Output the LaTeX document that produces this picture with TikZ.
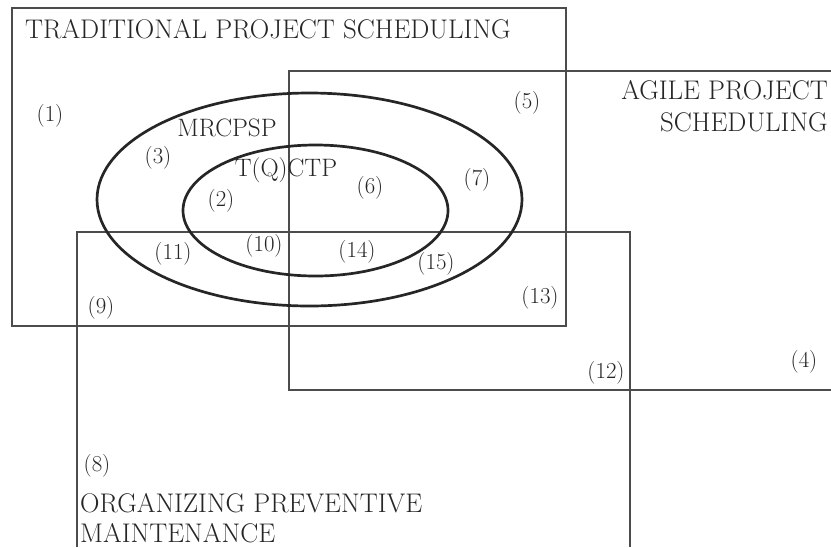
\documentclass[tikz,border=0pt]{standalone}
\begin{document}
\begin{tikzpicture}[x=0.03cm,y=-0.03cm,
    setbox/.style={draw=black!70,line width=1.1pt},
    setring/.style={draw=black!85,line width=2.3pt},
    region/.style={text=black!85,font=\fontsize{19.5}{22}\selectfont,inner sep=0pt},
    setname/.style={text=black!85,font=\fontsize{23}{27}\selectfont,inner sep=0pt}]
    \useasboundingbox (0,0) rectangle (831,547);
    \draw[setbox] (12,8) rectangle (566,326);
    \draw[setbox] (831,71) -- (289,71) -- (289,390) -- (831,390);
    \draw[setbox] (77,547) -- (77,232) -- (630,232) -- (630,547);
    \draw[setring] (309.5,199.5) ellipse [x radius=212.5, y radius=106.5];
    \draw[setring] (315.5,210.5) ellipse [x radius=132.5, y radius=65.5];
    \node[setname,anchor=base west] (trad) at (25,38) {TRADITIONAL PROJECT SCHEDULING};
    \node[setname,anchor=base east] (agile) at (828,99) {AGILE PROJECT};
    \node[setname,anchor=base east] (agilesub) at (828,131) {SCHEDULING};
    \node[setname,anchor=base west] (prev) at (80,512) {ORGANIZING PREVENTIVE};
    \node[setname,anchor=base west] (prevsub) at (80,542) {MAINTENANCE};
    \node[setname,font=\fontsize{21.5}{24}\selectfont] (mrcpsp) at (227,128) {MRCPSP};
    \node[setname,font=\fontsize{21.5}{24}\selectfont] (tqctp) at (286,170) {T(Q)CTP};
    \node[region] (r1) at (50,116) {(1)};
    \node[region] (r2) at (221,201) {(2)};
    \node[region] (r3) at (158,158) {(3)};
    \node[region] (r4) at (804,362) {(4)};
    \node[region] (r5) at (527,103) {(5)};
    \node[region] (r6) at (370,188) {(6)};
    \node[region] (r7) at (477,180) {(7)};
    \node[region] (r8) at (97,466) {(8)};
    \node[region] (r9) at (101,308) {(9)};
    \node[region] (r10) at (264,246) {(10)};
    \node[region] (r11) at (173,254) {(11)};
    \node[region] (r12) at (606,373) {(12)};
    \node[region] (r13) at (540,298) {(13)};
    \node[region] (r14) at (357,252) {(14)};
    \node[region] (r15) at (436,264) {(15)};
\end{tikzpicture}
\end{document}
